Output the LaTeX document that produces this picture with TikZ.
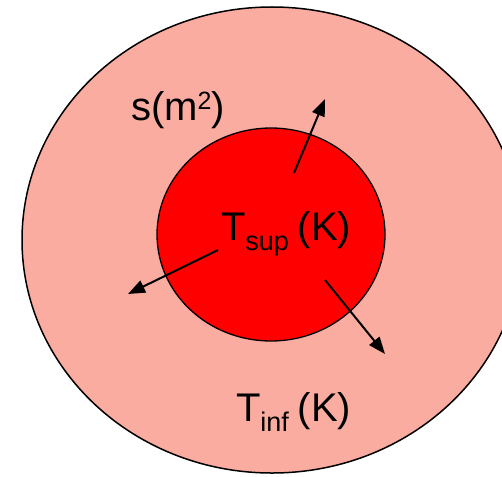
\documentclass[tikz,border=0pt]{standalone}
\usepackage{fontspec}
\setmainfont{Liberation Sans}
\usetikzlibrary{arrows.meta,shapes.geometric}
\definecolor{outerfill}{RGB}{251,172,160}
\definecolor{innerfill}{RGB}{255,0,0}
\newcommand{\bigtxt}{\fontsize{40}{48}\selectfont}
\newcommand{\mysub}[1]{\raisebox{-10pt}{\fontsize{27}{27}\selectfont #1}}
\newcommand{\mysup}[1]{\raisebox{10pt}{\fontsize{25}{25}\selectfont #1}}
\tikzset{
  disc/.style={ellipse, draw=black, line width=1.5pt, inner sep=0pt, outer sep=0pt},
  lbl/.style={anchor=base west, inner sep=0pt, outer sep=0pt, font=\bigtxt},
  flux/.style={line width=2pt, -{Triangle[length=17pt,width=13pt]}}
}
\begin{document}
\begin{tikzpicture}[x=1pt,y=-1pt]
\clip (0,0) rectangle (502,476);
\fill[white] (0,0) rectangle (502,476);
\node[disc, fill=outerfill, minimum width=500pt, minimum height=466pt] (outer) at (272,240) {};
\node[disc, fill=innerfill, line width=1.3pt, minimum width=228pt, minimum height=213pt] (inner) at (271,234.5) {};
\node[lbl] (s) at (131,120) {s(m\mysup{2})};
\node[lbl] (tsup) at (221,240) {T\mysub{sup}\hspace{9pt}(K)};
\node[lbl] (tinf) at (236,421) {T\mysub{inf}\hspace{9pt}(K)};
\coordinate (a1s) at (294,173);
\coordinate (a1e) at (325,99);
\coordinate (a2s) at (218,250);
\coordinate (a2e) at (128,294);
\coordinate (a3s) at (325,280);
\coordinate (a3e) at (385,354);
\draw[flux] (a1s) -- (a1e);
\draw[flux] (a2s) -- (a2e);
\draw[flux] (a3s) -- (a3e);
\end{tikzpicture}
\end{document}
